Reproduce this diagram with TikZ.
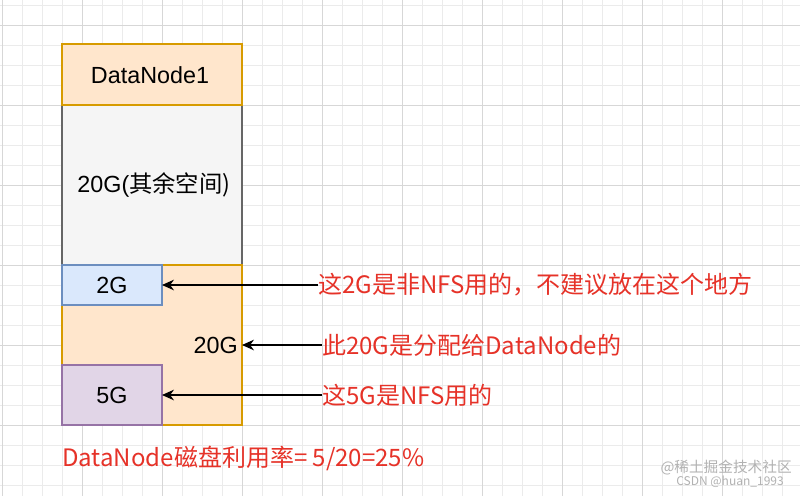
\documentclass[tikz,border=0pt]{standalone}
\usepackage{fontspec}
\setmainfont{Liberation Sans}
\newfontfamily\cjk{Noto Sans CJK SC}
\usetikzlibrary{arrows.meta}
\definecolor{gridc}{RGB}{235,235,235}
\definecolor{gridm}{RGB}{215,215,215}
\definecolor{redt}{RGB}{230,50,40}
\tikzset{
 box/.style={draw, line width=1pt},
 lbl/.style={font=\fontsize{17.5}{20}\selectfont, inner sep=0pt},
 rlbl/.style={font=\cjk\fontsize{18}{20}\selectfont, text=redt, inner sep=0pt, anchor=west},
 arr/.style={-{Stealth[length=9pt,width=8pt]}, line width=1pt},
}
\begin{document}
\begin{tikzpicture}[x=0.75pt,y=-0.75pt]
\fill[white] (0,0) rectangle (800,496);
\useasboundingbox (0,0) rectangle (800,496);
\foreach \i in {0,...,40} \draw[gridc, line width=0.5pt] (2+20*\i,0) -- (2+20*\i,496);
\foreach \i in {0,...,25} \draw[gridc, line width=0.5pt] (0,5+20*\i) -- (800,5+20*\i);
\foreach \i in {0,...,10} \draw[gridm, line width=0.6pt] (2+80*\i,0) -- (2+80*\i,496);
\foreach \i in {0,...,6} \draw[gridm, line width=0.6pt] (0,25+80*\i) -- (800,25+80*\i);
\draw[box, draw={rgb,255:red,102;green,102;blue,102}, fill={rgb,255:red,245;green,245;blue,245}] (62,105) rectangle (242,265);
\draw[box, draw={rgb,255:red,215;green,155;blue,0}, fill={rgb,255:red,255;green,230;blue,204}] (62,44) rectangle (242,105);
\draw[box, draw={rgb,255:red,215;green,155;blue,0}, fill={rgb,255:red,255;green,230;blue,204}] (62,265) rectangle (242,425);
\draw[box, draw={rgb,255:red,108;green,142;blue,191}, fill={rgb,255:red,218;green,232;blue,252}] (62,265) rectangle (162,305);
\draw[box, draw={rgb,255:red,150;green,115;blue,166}, fill={rgb,255:red,225;green,213;blue,231}] (62,365) rectangle (162,425);
\node[lbl] (dn) at (150,75) {DataNode1};
\node[lbl] (rest) at (154,185) {20G(\cjk 其余空间)};
\node[lbl] (g2) at (112,285) {2G};
\node[lbl] (g5) at (112,395) {5G};
\node[lbl, anchor=east] (g20) at (238,345) {20G};
\coordinate (a2) at (162,285);
\coordinate (a20) at (242,345);
\coordinate (a5) at (162,395);
\node[rlbl] (t1) at (318,285) {这2G是非NFS用的，不建议放在这个地方};
\node[rlbl] (t2) at (322,345) {此20G是分配给DataNode的};
\node[rlbl] (t3) at (322,395) {这5G是NFS用的};
\draw[arr] (t1.west) -- (a2);
\draw[arr] (t2.west) -- (a20);
\draw[arr] (t3.west) -- (a5);
\node[rlbl] (util) at (62,458) {DataNode磁盘利用率= 5/20=25\%};
\node[font=\cjk\fontsize{11}{12}\selectfont, text=black!30, anchor=east, inner sep=0pt] (wm1) at (792,468) {@稀土掘金技术社区};
\node[font=\cjk\fontsize{9}{10}\selectfont, text=black!30, anchor=east, inner sep=0pt] (wm2) at (784,482) {CSDN @huan\_1993};
\end{tikzpicture}
\end{document}
